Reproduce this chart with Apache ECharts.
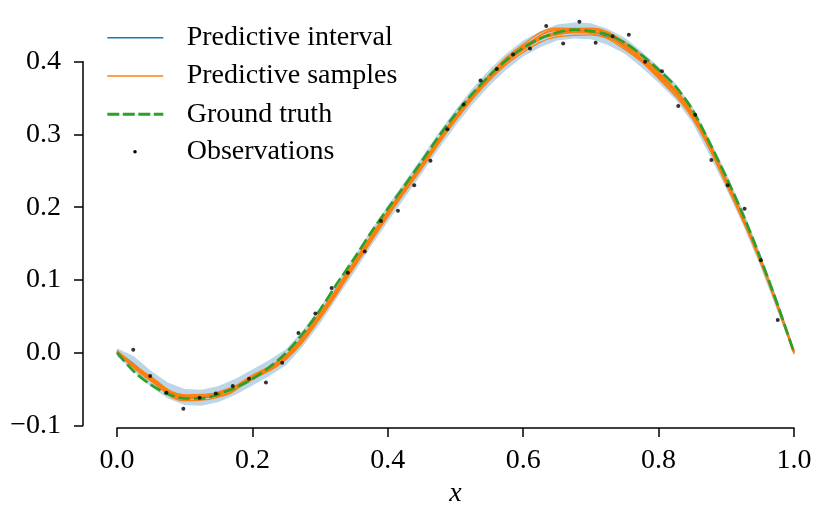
<!DOCTYPE html>
<html>
<head>
<meta charset="utf-8">
<script src="https://cdn.jsdelivr.net/npm/echarts@6/dist/echarts.min.js"></script>
<style>
html, body { margin: 0; padding: 0; background: #fff; }
#main { width: 831px; height: 514px; }
</style>
</head>
<body>
<div id="main"></div>
<script>
// fine x grid for the ground truth, mean and band
var gridX = [0.000, 0.025, 0.050, 0.075, 0.100, 0.125, 0.150, 0.175, 0.200, 0.225,
             0.250, 0.275, 0.300, 0.325, 0.350, 0.375, 0.400, 0.425, 0.450, 0.475,
             0.500, 0.525, 0.550, 0.575, 0.600, 0.625, 0.650, 0.675, 0.700, 0.725,
             0.750, 0.775, 0.800, 0.825, 0.850, 0.875, 0.900, 0.925, 0.950, 0.975, 1.000];
var groundTruth = [0.000, -0.026, -0.044, -0.057, -0.063, -0.063, -0.057, -0.048, -0.036, -0.020,
                   0.000, 0.027, 0.059, 0.095, 0.129, 0.165, 0.198, 0.230, 0.263, 0.297,
                   0.328, 0.356, 0.381, 0.402, 0.419, 0.432, 0.440, 0.444, 0.442, 0.437,
                   0.426, 0.409, 0.389, 0.366, 0.334, 0.289, 0.241, 0.189, 0.131, 0.068, 0.000];
var predMean = [0.001, -0.016, -0.036, -0.052, -0.061, -0.062, -0.057, -0.047, -0.034, -0.021,
                -0.006, 0.020, 0.051, 0.086, 0.121, 0.157, 0.191, 0.224, 0.257, 0.291,
                0.323, 0.352, 0.378, 0.400, 0.418, 0.431, 0.440, 0.443, 0.442, 0.434,
                0.422, 0.403, 0.382, 0.359, 0.327, 0.283, 0.236, 0.185, 0.128, 0.066, 0.002];
var bandLower = [-0.005, -0.026, -0.047, -0.063, -0.072, -0.073, -0.068, -0.058, -0.045, -0.032,
                 -0.017, 0.009, 0.040, 0.075, 0.110, 0.146, 0.180, 0.213, 0.246, 0.280,
                 0.312, 0.341, 0.367, 0.389, 0.407, 0.420, 0.429, 0.432, 0.431, 0.423,
                 0.411, 0.392, 0.371, 0.348, 0.316, 0.272, 0.225, 0.175, 0.119, 0.058, -0.003];
var bandUpper = [0.006, -0.005, -0.025, -0.041, -0.050, -0.051, -0.046, -0.036, -0.023, -0.010,
                 0.005, 0.031, 0.062, 0.097, 0.132, 0.168, 0.202, 0.235, 0.268, 0.302,
                 0.334, 0.363, 0.389, 0.411, 0.429, 0.442, 0.451, 0.454, 0.453, 0.445,
                 0.433, 0.414, 0.393, 0.370, 0.338, 0.294, 0.247, 0.195, 0.137, 0.074, 0.005];

// coarser grid for the predictive samples
var sampleX = [0.00, 0.05, 0.10, 0.15, 0.20, 0.25, 0.30, 0.35, 0.40, 0.45, 0.50,
               0.55, 0.60, 0.65, 0.70, 0.75, 0.80, 0.85, 0.90, 0.95, 1.00];
var sample1 = [0.002, -0.034, -0.058, -0.055, -0.031, -0.004, 0.053, 0.124, 0.195, 0.260, 0.326, 0.382, 0.424, 0.446, 0.445, 0.425, 0.385, 0.330, 0.239, 0.130, 0.002];
var sample2 = [0.000, -0.038, -0.066, -0.061, -0.037, -0.009, 0.047, 0.117, 0.187, 0.253, 0.319, 0.374, 0.413, 0.434, 0.437, 0.417, 0.377, 0.322, 0.231, 0.125, -0.002];
var sample3 = [0.003, -0.035, -0.062, -0.058, -0.033, -0.005, 0.052, 0.123, 0.192, 0.258, 0.325, 0.380, 0.420, 0.443, 0.444, 0.420, 0.381, 0.328, 0.237, 0.129, 0.001];
var sample4 = [0.001, -0.037, -0.064, -0.056, -0.035, -0.007, 0.050, 0.119, 0.189, 0.256, 0.321, 0.377, 0.416, 0.438, 0.440, 0.424, 0.384, 0.325, 0.234, 0.127, 0.000];
var sample5 = [0.002, -0.033, -0.060, -0.059, -0.032, -0.003, 0.055, 0.125, 0.194, 0.259, 0.324, 0.379, 0.421, 0.441, 0.446, 0.427, 0.386, 0.331, 0.239, 0.131, 0.003];
var sample6 = [0.000, -0.039, -0.063, -0.054, -0.036, -0.008, 0.049, 0.120, 0.190, 0.255, 0.322, 0.376, 0.417, 0.439, 0.441, 0.419, 0.378, 0.324, 0.233, 0.126, -0.001];
var sample7 = [0.002, -0.036, -0.059, -0.060, -0.034, -0.006, 0.051, 0.122, 0.193, 0.257, 0.324, 0.381, 0.419, 0.444, 0.439, 0.421, 0.382, 0.327, 0.236, 0.128, 0.001];
var sample8 = [0.001, -0.035, -0.061, -0.057, -0.033, -0.005, 0.052, 0.121, 0.191, 0.256, 0.322, 0.377, 0.422, 0.437, 0.443, 0.423, 0.380, 0.329, 0.238, 0.129, 0.000];
var samples = [sample1, sample2, sample3, sample4, sample5, sample6, sample7, sample8];

// noisy observations
var obsX = [0.024, 0.049, 0.073, 0.098, 0.122, 0.146, 0.171, 0.195, 0.220, 0.244,
            0.268, 0.293, 0.317, 0.341, 0.366, 0.390, 0.415, 0.439, 0.463, 0.488,
            0.512, 0.537, 0.561, 0.585, 0.610, 0.634, 0.659, 0.683, 0.707, 0.732,
            0.756, 0.780, 0.805, 0.829, 0.854, 0.878, 0.902, 0.927, 0.951, 0.976];
var obsY = [0.004, -0.032, -0.055, -0.077, -0.062, -0.056, -0.046, -0.036, -0.041, -0.014,
            0.027, 0.054, 0.089, 0.110, 0.139, 0.181, 0.195, 0.230, 0.264, 0.307,
            0.341, 0.374, 0.390, 0.410, 0.418, 0.449, 0.425, 0.455, 0.426, 0.435,
            0.437, 0.400, 0.387, 0.339, 0.327, 0.265, 0.230, 0.198, 0.127, 0.045];

window.onload = function () {
    var myChart = echarts.init(document.getElementById('main'));
    var font = 'Liberation Serif';

    function pairs(xs, ys) {
        return xs.map(function (x, i) { return [x, ys[i]]; });
    }
    function tickLabel(v) {
        var s = Math.abs(v).toFixed(1);
        return v < -1e-9 ? '\u2212' + s : s;
    }
    function legendRow(name, icon, color, w, h, left, cy, padLeft) {
        return {
            left: left, top: cy - 14, padding: 0,
            itemWidth: w, itemHeight: h, selectedMode: false,
            textStyle: { fontFamily: font, fontSize: 28, lineHeight: 28, color: '#000', padding: [0, 0, 0, padLeft] },
            data: [{ name: name, icon: icon, itemStyle: { color: color, borderWidth: 0, opacity: 1 } }]
        };
    }

    var series = [];
    // predictive interval band
    series.push({
        name: 'Predictive interval',
        type: 'custom',
        silent: true,
        z: 1,
        data: [[0, 0]],
        renderItem: function (params, api) {
            var pts = [];
            for (var i = 0; i < gridX.length; i++) pts.push(api.coord([gridX[i], bandUpper[i]]));
            for (var j = gridX.length - 1; j >= 0; j--) pts.push(api.coord([gridX[j], bandLower[j]]));
            return { type: 'polygon', shape: { points: pts }, style: { fill: 'rgba(31,119,180,0.3)' } };
        }
    });
    series.push({
        name: 'Predictive interval',
        type: 'line',
        data: pairs(gridX, predMean),
        symbol: 'none',
        smooth: 0.3,
        clip: false,
        z: 2,
        lineStyle: { color: '#1f77b4', width: 1.5 }
    });
    samples.forEach(function (s) {
        series.push({
            name: 'Predictive samples',
            type: 'line',
            data: pairs(sampleX, s),
            symbol: 'none',
            smooth: 0.4,
            clip: false,
            z: 3,
            lineStyle: { color: '#ff7f0e', width: 1.3 }
        });
    });
    series.push({
        name: 'Ground truth',
        type: 'line',
        data: pairs(gridX, groundTruth),
        symbol: 'none',
        smooth: 0.3,
        clip: false,
        z: 4,
        lineStyle: { color: '#2ca02c', width: 2.7, type: [11.5, 4], cap: 'butt' }
    });
    series.push({
        name: 'Observations',
        type: 'scatter',
        data: pairs(obsX, obsY),
        symbolSize: 4,
        clip: false,
        z: 5,
        itemStyle: { color: '#000' }
    });

    var option = {
        animation: false,
        backgroundColor: '#fff',
        grid: { left: 117, right: 37, top: 61.7, bottom: 88.6, containLabel: false, outerBoundsMode: 'none' },
        legend: [
            legendRow('Predictive interval', 'rect', '#1f77b4', 56, 1.5, 107.3, 37.7, 18.4),
            legendRow('Predictive samples', 'rect', '#ff7f0e', 56, 1.5, 107.3, 76, 18.4),
            legendRow('Ground truth', 'path://M0 0h12v3h-12z M15.5 0h12v3h-12z M31 0h12v3h-12z M46.5 0h9.5v3h-9.5z',
                      '#2ca02c', 56, 3, 107.3, 114.3, 18.4),
            legendRow('Observations', 'circle', '#000', 3.5, 3.5, 133.25, 151.7, 45)
        ],
        xAxis: {
            type: 'value', min: 0, max: 1, interval: 0.2, offset: 2.5,
            name: 'x', nameLocation: 'middle', nameGap: 52,
            nameTextStyle: { fontFamily: font, fontStyle: 'italic', fontSize: 28, color: '#000' },
            axisLine: { show: true, onZero: false, lineStyle: { color: '#000', width: 1.5 } },
            axisTick: { show: true, length: 9, lineStyle: { color: '#000', width: 1.5 } },
            axisLabel: { color: '#000', fontFamily: font, fontSize: 28, margin: 19, formatter: tickLabel },
            splitLine: { show: false }
        },
        yAxis: {
            type: 'value', min: -0.1, max: 0.4, interval: 0.1, offset: 34,
            axisLine: { show: true, onZero: false, lineStyle: { color: '#000', width: 1.5 } },
            axisTick: { show: true, length: 9, lineStyle: { color: '#000', width: 1.5 } },
            axisLabel: { color: '#000', fontFamily: font, fontSize: 28, margin: 22, formatter: tickLabel },
            splitLine: { show: false }
        },
        series: series
    };
    myChart.setOption(option);
};
</script>
</body>
</html>
